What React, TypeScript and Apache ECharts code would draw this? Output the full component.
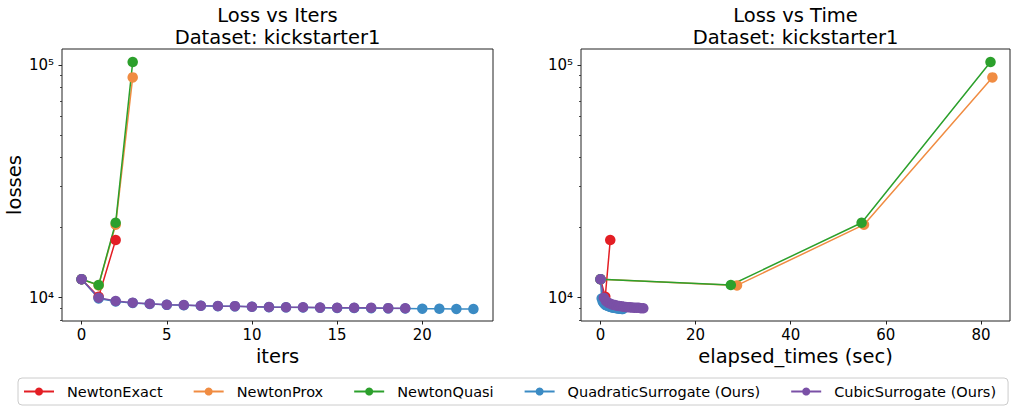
import React, { useEffect, useRef } from 'react';
import * as echarts from 'echarts';

// ---------- data ----------
const seriesNames = [
  'NewtonExact',
  'NewtonProx',
  'NewtonQuasi',
  'QuadraticSurrogate (Ours)',
  'CubicSurrogate (Ours)',
];
const seriesColors = ['#e31e24', '#f08c42', '#2ca02c', '#3b8bc4', '#7a50a6'];

const exactLoss = [12000, 10100, 17700];
const exactTime = [0, 1.0, 2.05];

const proxLoss = [12000, 11300, 20600, 88500];
const proxTime = [0, 28.7, 55.4, 82.4];

const quasiLoss = [12000, 11340, 21000, 103000];
const quasiTime = [0, 27.4, 54.9, 82.0];

const quadLoss = [
  12000, 9930, 9640, 9500, 9400, 9320, 9280, 9230, 9200, 9180, 9140, 9110,
  9090, 9080, 9060, 9040, 9030, 9020, 9000, 8990, 8970, 8960, 8950, 8940,
];
const quadTime = [
  0, 0.25, 0.45, 0.65, 0.85, 1.05, 1.25, 1.45, 1.7, 1.9, 2.1, 2.3, 2.5,
  2.7, 2.9, 3.1, 3.3, 3.5, 3.7, 3.9, 4.1, 4.3, 4.5, 4.7,
];

const cubicLoss = [
  12000, 10000, 9680, 9520, 9420, 9330, 9300, 9240, 9210, 9200, 9150, 9120,
  9100, 9100, 9070, 9050, 9050, 9050, 9020, 9010,
];
const cubicTime = [
  0, 0.7, 1.15, 1.6, 2.1, 2.55, 3.0, 3.45, 3.9, 4.35, 4.85, 5.3, 5.75, 6.2,
  6.65, 7.15, 7.6, 8.05, 8.5, 9.0,
];

const lossSets = [exactLoss, proxLoss, quasiLoss, quadLoss, cubicLoss];
const timeSets = [exactTime, proxTime, quasiTime, quadTime, cubicTime];

const itersTicks = [0, 5, 10, 15, 20];
const timeTicks = [0, 20, 40, 60, 80];
const majorLossTicks = [10000, 100000];
const minorLossTicks = [8000, 9000, 20000, 30000, 40000, 50000, 60000, 70000, 80000, 90000];

const titles = ['Loss vs Iters\nDataset: kickstarter1', 'Loss vs Time\nDataset: kickstarter1'];
const xNames = ['iters', 'elapsed_times (sec)'];
const yName = 'losses';

// ---------- layout / style ----------
const FONT = 'DejaVu Sans';
const Y_MIN = 7943;
const Y_MAX = 117200;
const SUP: Record<string, string> = { '0': '⁰', '1': '¹', '2': '²', '3': '³', '4': '⁴', '5': '⁵', '6': '⁶', '7': '⁷', '8': '⁸', '9': '⁹' };

function powLabel(v: number): string {
  const p = Math.round(v);
  if (Math.abs(v - p) > 1e-6) return '';
  return '10' + String(p).split('').map((c) => SUP[c] || c).join('');
}

function buildOption() {
  const grids = [
    { left: 62, right: 518, top: 49, bottom: 85 },
    { left: 581, right: 1, top: 49, bottom: 85 },
  ].map((g) => ({ ...g, show: true, borderColor: '#222', borderWidth: 1, backgroundColor: 'transparent', containLabel: false }));

  const xRanges = [
    [-1.15, 24.15],
    [-4.1, 86.1],
  ];
  const xTickSets = [itersTicks, timeTicks];

  const xAxes = [0, 1].map((i) => ({
    type: 'value',
    gridIndex: i,
    min: xRanges[i][0],
    max: xRanges[i][1],
    axisLine: { show: false },
    splitLine: { show: false },
    axisTick: { show: true, customValues: xTickSets[i], length: 3.5, lineStyle: { color: '#222', width: 1 } },
    axisLabel: { customValues: xTickSets[i], fontSize: 15, color: '#000', fontFamily: FONT, margin: 6 },
    name: xNames[i],
    nameLocation: 'middle',
    nameGap: 21,
    nameTextStyle: { fontSize: 19.5, color: '#000', fontFamily: FONT },
  }));

  const lmin = Math.log10(Y_MIN);
  const lmax = Math.log10(Y_MAX);
  const yAxes: any[] = [];
  [0, 1].forEach((i) => {
    yAxes.push({
      type: 'log',
      logBase: 10,
      gridIndex: i,
      position: 'left',
      min: Y_MIN,
      max: Y_MAX,
      show: false,
    });
    yAxes.push({
      type: 'value',
      gridIndex: i,
      position: 'left',
      min: lmin,
      max: lmax,
      axisLine: { show: false },
      splitLine: { show: false },
      axisTick: { show: true, customValues: majorLossTicks.map(Math.log10), length: 3.5, lineStyle: { color: '#222', width: 1 } },
      axisLabel: {
        customValues: majorLossTicks.map(Math.log10),
        formatter: (v: number) => powLabel(v),
        fontSize: 15,
        color: '#000',
        fontFamily: FONT,
        margin: 8,
      },
      name: i === 0 ? yName : '',
      nameLocation: 'middle',
      nameGap: 30,
      nameTextStyle: { fontSize: 19.5, color: '#000', fontFamily: FONT },
    });
    yAxes.push({
      type: 'value',
      gridIndex: i,
      position: 'left',
      min: lmin,
      max: lmax,
      axisLine: { show: false },
      splitLine: { show: false },
      axisTick: { show: true, customValues: minorLossTicks.map(Math.log10), length: 2, lineStyle: { color: '#222', width: 0.8 } },
      axisLabel: { show: false },
    });
  });

  const series: any[] = [];
  seriesNames.forEach((name, k) => {
    series.push({
      type: 'line',
      name,
      xAxisIndex: 0,
      yAxisIndex: 0,
      data: lossSets[k].map((v, i) => [i, v]),
      symbol: 'circle',
      symbolSize: 10.5,
      showAllSymbol: true,
      color: seriesColors[k],
      lineStyle: { width: 1.5, color: seriesColors[k] },
      itemStyle: { color: seriesColors[k] },
      emphasis: { disabled: true },
    });
  });
  seriesNames.forEach((name, k) => {
    series.push({
      type: 'line',
      name,
      xAxisIndex: 1,
      yAxisIndex: 3,
      data: timeSets[k].map((t, i) => [t, lossSets[k][i]]),
      symbol: 'circle',
      symbolSize: 10.5,
      showAllSymbol: true,
      color: seriesColors[k],
      lineStyle: { width: 1.5, color: seriesColors[k] },
      itemStyle: { color: seriesColors[k] },
      emphasis: { disabled: true },
    });
  });

  return {
    animation: false,
    backgroundColor: '#ffffff',
    textStyle: { fontFamily: FONT },
    title: [
      { text: titles[0], left: 277.5, top: 4, textAlign: 'center', padding: 0 },
      { text: titles[1], left: 795.5, top: 4, textAlign: 'center', padding: 0 },
    ].map((t) => ({
      ...t,
      textStyle: { fontSize: 19.5, fontWeight: 'normal', color: '#000', lineHeight: 22.5, fontFamily: FONT },
    })),
    legend: {
      data: seriesNames,
      left: 18,
      top: 378,
      orient: 'horizontal',
      itemWidth: 30,
      itemHeight: 10,
      itemGap: 30,
      padding: [6, 12, 6, 5],
      borderColor: '#cccccc',
      borderWidth: 1,
      borderRadius: 4,
      backgroundColor: '#ffffff',
      textStyle: { fontSize: 14.5, color: '#000', fontFamily: FONT, padding: [0, 0, 0, 8] },
    },
    grid: grids,
    xAxis: xAxes,
    yAxis: yAxes,
    series,
  };
}

export default function App() {
  const ref = useRef<HTMLDivElement>(null);
  useEffect(() => {
    if (!ref.current) return;
    const chart = echarts.init(ref.current, null, { renderer: 'svg' });
    chart.setOption(buildOption() as any);
    return () => chart.dispose();
  }, []);
  return (
    <div
      ref={ref}
      style={{ position: 'absolute', left: 0, top: 0, width: 1011, height: 406, background: '#fff' }}
    />
  );
}
